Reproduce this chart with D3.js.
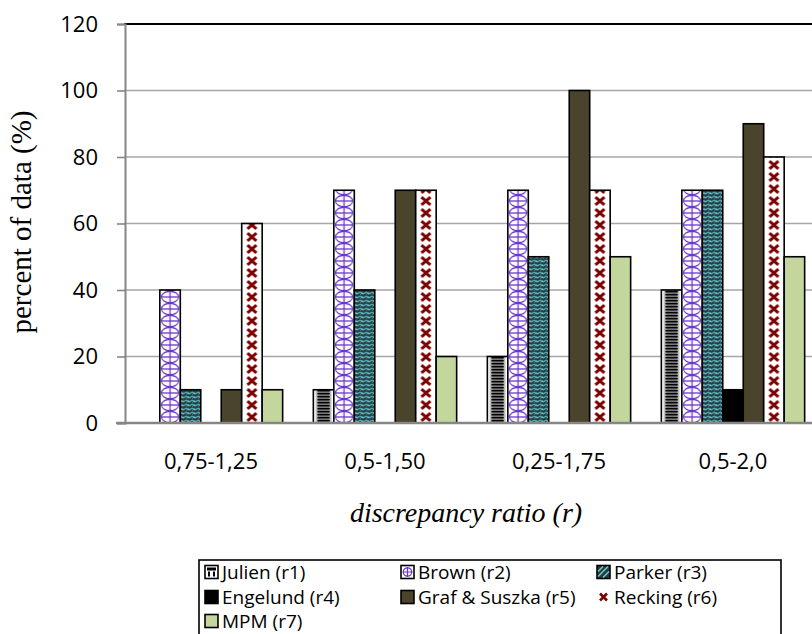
<!DOCTYPE html>
<html>
<head>
<meta charset="utf-8">
<script src="https://cdn.jsdelivr.net/npm/d3@7"></script>
<style>
  html, body { margin: 0; padding: 0; background: #fff; }
  svg { display: block; }
</style>
</head>
<body>
<svg id="chart" width="812" height="634"></svg>
<script>
// Discrepancy-ratio classes on the x axis
const categories = ["0,75-1,25", "0,5-1,50", "0,25-1,75", "0,5-2,0"];

// Percent of data falling inside each class, one array per formula
const julien   = [0, 10, 20, 40];
const brown    = [40, 70, 70, 70];
const parker   = [10, 40, 50, 70];
const engelund = [0, 0, 0, 10];
const graf     = [10, 70, 100, 90];
const recking  = [60, 70, 70, 80];
const mpm      = [10, 20, 50, 50];

const seriesNames = ["Julien (r1)", "Brown (r2)", "Parker (r3)", "Engelund (r4)",
                     "Graf & Suszka (r5)", "Recking (r6)", "MPM (r7)"];
const seriesValues = [julien, brown, parker, engelund, graf, recking, mpm];

const yTicks = [0, 20, 40, 60, 80, 100, 120];

// fill style per series: pattern kind or solid colour
const seriesStyle = [
  { kind: "julien" },
  { kind: "brown" },
  { kind: "parker" },
  { kind: "solid", color: "#000000" },
  { kind: "solid", color: "#4a442d" },
  { kind: "recking" },
  { kind: "solid", color: "#c3d69b" }
];

const svg = d3.select("#chart");
const defs = svg.append("defs");

const plot = { left: 124, right: 820, top: 24, bottom: 423 };

const x0 = d3.scaleBand().domain(categories).range([plot.left, plot.right]).padding(0);
const barW = x0.bandwidth() / 8.5;
const x1 = d3.scaleBand().domain(d3.range(seriesNames.length))
  .range([0.75 * barW, 7.75 * barW]).padding(0);
const y = d3.scaleLinear().domain([0, 120]).range([plot.bottom, plot.top]);

// ---- pattern builders (anchored at a given x so every bar starts cleanly) ----
let patId = 0;
function makePattern(kind, px, py, w) {
  const id = "pat" + (patId++);
  if (kind === "julien") {
    const h = 3;
    const p = defs.append("pattern").attr("id", id).attr("patternUnits", "userSpaceOnUse")
      .attr("x", px).attr("y", py).attr("width", w).attr("height", h);
    p.append("rect").attr("width", w).attr("height", h).attr("fill", "#ffffff");
    p.append("rect").attr("x", w * 0.12).attr("width", w * 0.76).attr("height", h).attr("fill", "#b4b4b4");
    p.append("rect").attr("x", w * 0.22).attr("width", w * 0.56).attr("height", h).attr("fill", "#7a7a7a");
    p.append("rect").attr("x", w * 0.2).attr("y", 0).attr("width", w * 0.6).attr("height", 1.4).attr("fill", "#000");
  } else if (kind === "brown") {
    const h = 12;
    const p = defs.append("pattern").attr("id", id).attr("patternUnits", "userSpaceOnUse")
      .attr("x", px).attr("y", py).attr("width", w).attr("height", h);
    p.append("rect").attr("width", w).attr("height", h).attr("fill", "#ffffff");
    const c = "#6a35d0";
    p.append("ellipse").attr("cx", w / 2).attr("cy", h / 2).attr("rx", w / 2 - 1.5).attr("ry", h / 2 - 0.3)
      .attr("fill", "none").attr("stroke", c).attr("stroke-width", 1.2);
    p.append("line").attr("x1", w / 2).attr("x2", w / 2).attr("y1", 0).attr("y2", h)
      .attr("stroke", c).attr("stroke-width", 1.3);
    p.append("line").attr("x1", 1.5).attr("x2", w - 1.5).attr("y1", h / 2).attr("y2", h / 2)
      .attr("stroke", c).attr("stroke-width", 1.3);
  } else if (kind === "parker") {
    const h = 4, tw = 6;
    const p = defs.append("pattern").attr("id", id).attr("patternUnits", "userSpaceOnUse")
      .attr("x", px).attr("y", py).attr("width", tw).attr("height", h);
    p.append("rect").attr("width", tw).attr("height", h).attr("fill", "#243c3e");
    p.append("path").attr("d", `M0,1 L${tw / 2},3 L${tw},1`)
      .attr("fill", "none").attr("stroke", "#4fb0bd").attr("stroke-width", 1.4);
    p.append("path").attr("d", `M0,3.4 L${tw / 2},1.6`)
      .attr("fill", "none").attr("stroke", "#9fd6dc").attr("stroke-width", 0.6);
  } else if (kind === "recking") {
    const h = 12;
    const p = defs.append("pattern").attr("id", id).attr("patternUnits", "userSpaceOnUse")
      .attr("x", px).attr("y", py).attr("width", w).attr("height", h);
    p.append("rect").attr("width", w).attr("height", h).attr("fill", "#ffffff");
    const cx = w / 2, cy = h / 2, dx = 4.5, dy = 3.8;
    p.append("path").attr("d", `M${cx - dx},${cy - dy} L${cx + dx},${cy + dy} M${cx + dx},${cy - dy} L${cx - dx},${cy + dy}`)
      .attr("stroke", "#7f0000").attr("stroke-width", 3).attr("stroke-linecap", "butt");
  }
  return `url(#${id})`;
}

function fillFor(si, px, py, w) {
  const st = seriesStyle[si];
  if (st.kind === "solid") return st.color;
  return makePattern(st.kind, px, py, w);
}

// ---- plot area: top border in black ----
svg.append("line")
  .attr("x1", plot.left).attr("x2", plot.right)
  .attr("y1", plot.top).attr("y2", plot.top)
  .attr("stroke", "#000").attr("stroke-width", 2);

// horizontal gridlines
svg.append("g").selectAll("line")
  .data(yTicks.filter(t => t > 0 && t < 120))
  .join("line")
  .attr("x1", plot.left).attr("x2", plot.right)
  .attr("y1", d => y(d)).attr("y2", d => y(d))
  .attr("stroke", "#a6a6a6").attr("stroke-width", 1.6);

// ---- bars ----
const barsG = svg.append("g");
categories.forEach((cat, ci) => {
  seriesValues.forEach((vals, si) => {
    const v = vals[ci];
    if (v <= 0) return;
    const bx = x0(cat) + x1(si);
    const by = y(v);
    barsG.append("rect")
      .attr("x", bx).attr("y", by)
      .attr("width", barW).attr("height", y(0) - by)
      .attr("fill", fillFor(si, bx, y(0), barW))
      .attr("stroke", "#000").attr("stroke-width", 1.6);
  });
});

// ---- axes ----
const yAxis = d3.axisLeft(y).tickValues(yTicks).tickSize(8).tickPadding(19).tickFormat(d3.format("d"));
const yG = svg.append("g").attr("transform", `translate(${plot.left + 1},0)`).call(yAxis);
yG.select(".domain").attr("stroke", "#868686").attr("stroke-width", 2);
yG.selectAll(".tick line").attr("stroke", "#868686").attr("stroke-width", 1.6);
yG.selectAll(".tick text")
  .attr("font-family", "'Open Sans', sans-serif").attr("font-size", 22).attr("fill", "#000");

const xAxis = d3.axisBottom(x0).tickSize(0).tickPadding(30);
const xG = svg.append("g").attr("transform", `translate(0,${plot.bottom})`).call(xAxis);
xG.select(".domain").attr("stroke", "#868686").attr("stroke-width", 2.4)
  .attr("d", `M${plot.left - 8},0H${plot.right}`);
xG.selectAll(".tick text")
  .attr("font-family", "'Open Sans', sans-serif").attr("font-size", 22).attr("fill", "#000");

// ---- axis titles ----
svg.append("text")
  .attr("transform", `translate(31,222) rotate(-90)`)
  .attr("text-anchor", "middle")
  .attr("font-family", "'Liberation Serif', 'Times New Roman', serif")
  .attr("font-size", 29)
  .text("percent of data (%)");

svg.append("text")
  .attr("x", 466).attr("y", 522)
  .attr("text-anchor", "middle")
  .attr("font-family", "'Liberation Serif', 'Times New Roman', serif")
  .attr("font-style", "italic")
  .attr("font-size", 28)
  .text("discrepancy ratio (r)");

// ---- legend ----
const legend = { left: 199, top: 560, right: 781, bottom: 642 };
svg.append("rect")
  .attr("x", legend.left).attr("y", legend.top)
  .attr("width", legend.right - legend.left).attr("height", legend.bottom - legend.top)
  .attr("fill", "#fff").attr("stroke", "#000").attr("stroke-width", 1.6);

const colX = [222, 418, 614];
const rowY = [572, 597, 621];
seriesNames.forEach((name, si) => {
  const tx = colX[si % 3], ty = rowY[Math.floor(si / 3)];
  const g = svg.append("g");
  const st = seriesStyle[si];
  const ks = 13, kx = tx - 17, ky = ty - ks / 2;
  if (st.kind === "recking") {
    g.append("path")
      .attr("d", `M${kx + 3},${ty - 3.5} L${kx + 10},${ty + 3.5} M${kx + 10},${ty - 3.5} L${kx + 3},${ty + 3.5}`)
      .attr("stroke", "#7f0000").attr("stroke-width", 2.6);
  } else if (st.kind === "julien") {
    g.append("rect").attr("x", kx).attr("y", ky).attr("width", ks).attr("height", ks)
      .attr("fill", "#fff").attr("stroke", "#000").attr("stroke-width", 1.6);
    g.append("rect").attr("x", kx + 2).attr("y", ky + 2).attr("width", ks - 4).attr("height", 3).attr("fill", "#000");
    g.append("rect").attr("x", kx + 3).attr("y", ky + 6).attr("width", 2).attr("height", ks - 8).attr("fill", "#000");
    g.append("rect").attr("x", kx + 8).attr("y", ky + 6).attr("width", 2).attr("height", ks - 8).attr("fill", "#000");
  } else if (st.kind === "brown") {
    g.append("rect").attr("x", kx).attr("y", ky).attr("width", ks).attr("height", ks)
      .attr("fill", "#fff").attr("stroke", "#000").attr("stroke-width", 1.6);
    g.append("circle").attr("cx", kx + ks / 2).attr("cy", ty).attr("r", 4.2)
      .attr("fill", "none").attr("stroke", "#6a35d0").attr("stroke-width", 1.2);
    g.append("path").attr("d", `M${kx + ks / 2},${ky + 1.5}V${ky + ks - 1.5}M${kx + 1.5},${ty}H${kx + ks - 1.5}`)
      .attr("stroke", "#6a35d0").attr("stroke-width", 1.2);
  } else if (st.kind === "parker") {
    g.append("rect").attr("x", kx).attr("y", ky).attr("width", ks).attr("height", ks)
      .attr("fill", "#243c3e").attr("stroke", "#000").attr("stroke-width", 1.6);
    g.append("path")
      .attr("d", `M${kx + 1},${ky + 6}L${kx + 6},${ky + 1}M${kx + 1},${ky + 11}L${kx + 11},${ky + 1}M${kx + 6},${ky + 12}L${kx + 12},${ky + 6}`)
      .attr("stroke", "#6fc3cc").attr("stroke-width", 1.6);
  } else {
    g.append("rect").attr("x", kx).attr("y", ky).attr("width", ks).attr("height", ks)
      .attr("fill", st.color).attr("stroke", "#000").attr("stroke-width", 1.6);
  }
  g.append("text")
    .attr("x", tx).attr("y", ty).attr("dy", "0.35em")
    .attr("font-family", "'Open Sans', sans-serif").attr("font-size", 19)
    .text(name);
});
</script>
</body>
</html>
